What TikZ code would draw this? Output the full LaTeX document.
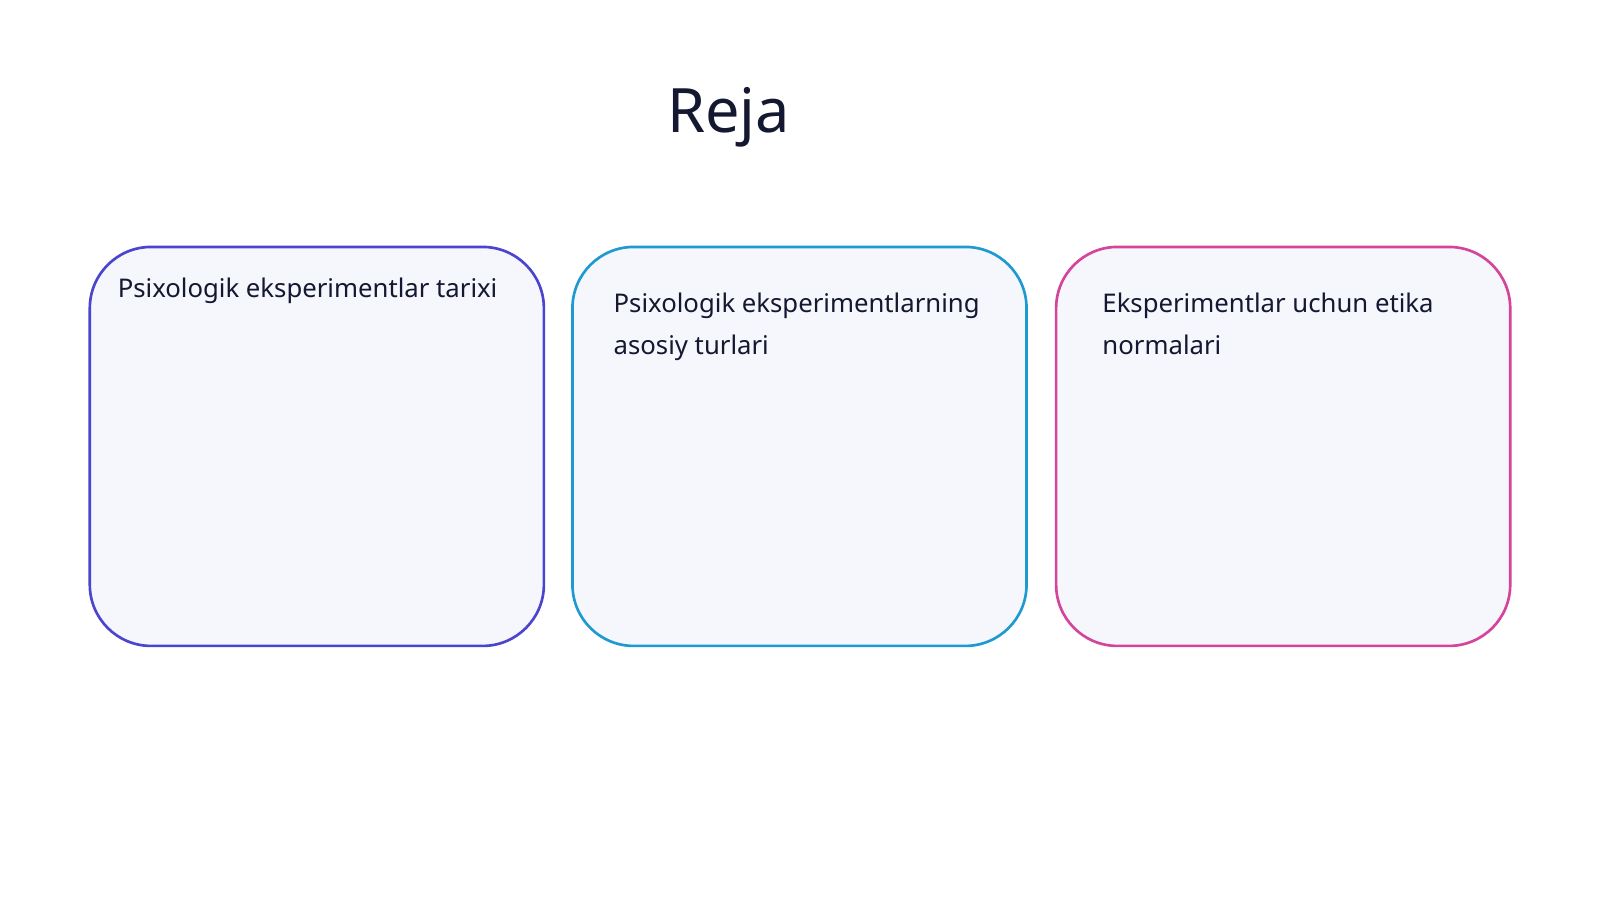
\documentclass[tikz,border=0pt]{standalone}
\usepackage{fontspec}
\setmainfont{Noto Sans}
\definecolor{c1}{HTML}{4B44CF}
\definecolor{c2}{HTML}{1E9AD0}
\definecolor{c3}{HTML}{D4449A}
\definecolor{fillc}{HTML}{F6F6FD}
\definecolor{txt}{HTML}{141830}
\begin{document}
\begin{tikzpicture}[x=0.5pt,y=-0.5pt,
  card/.style={line width=1.3pt,fill=fillc,rounded corners=30pt},
  lab/.style={anchor=base west,align=left,font=\fontsize{12.6}{20.5}\selectfont,text=txt,inner sep=0pt}]
\useasboundingbox (0,0) rectangle (1568,882);
\node[anchor=base,font=\fontsize{30}{36}\selectfont,text=txt] (title) at (714,130) {Reja};
\draw[card,draw=c1] (88,242) rectangle (533,633);
\draw[card,draw=c2] (561,242) rectangle (1006,633);
\draw[card,draw=c3] (1035,242) rectangle (1480,633);
\node[lab] (t1) at (115,292) {Psixologik eksperimentlar tarixi};
\node[lab] (t2) at (601,347) {Psixologik eksperimentlarning\\asosiy turlari};
\node[lab] (t3) at (1080,347) {Eksperimentlar uchun etika\\normalari};
\end{tikzpicture}
\end{document}
